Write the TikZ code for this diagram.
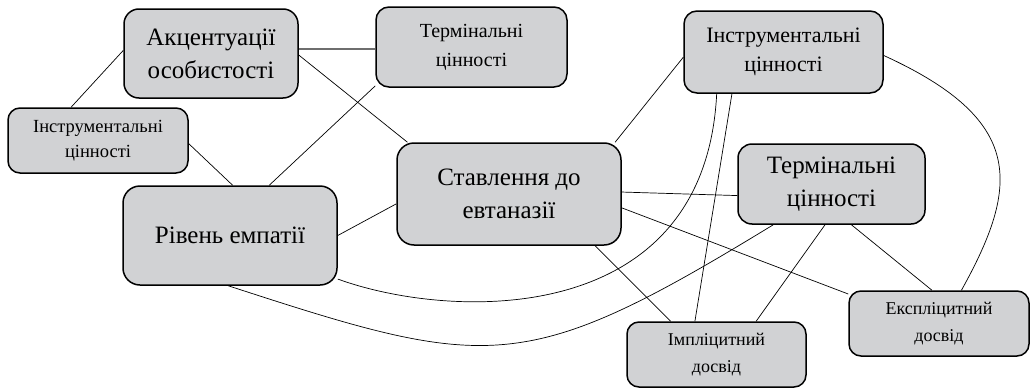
\documentclass[tikz,border=0pt]{standalone}
\usepackage{fontspec}
\setmainfont{Liberation Serif}
\definecolor{boxgray}{RGB}{209,210,212}
\definecolor{linegray}{RGB}{110,110,110}
\begin{document}
\begin{tikzpicture}[x=1pt,y=-1pt,
  box/.style={draw=black, line width=1.5pt, fill=boxgray, rounded corners=15pt, inner sep=0pt, align=center},
  bigtxt/.style={font=\fontsize{25}{33}\selectfont},
  smalltxt/.style={font=\fontsize{18.5}{25}\selectfont},
  conn/.style={draw=black, line width=0.7pt}]
\useasboundingbox (0,0) rectangle (1030,388);
\node[box, bigtxt, minimum width=174pt, minimum height=89pt] (A) at (211,53.5) {Акцентуації\\особистості};
\node[box, font=\fontsize{20}{29}\selectfont, minimum width=191pt, minimum height=80pt, rounded corners=13pt] (T1) at (471.5,47) {Термінальні\\цінності};
\node[box, smalltxt, minimum width=180pt, minimum height=65pt, rounded corners=12pt] (I1) at (98,140.5) {Інструментальні\\цінності};
\node[box, bigtxt, minimum width=224pt, minimum height=102pt, rounded corners=17pt] (S) at (509,194) {Ставлення до\\евтаназії};
\node[box, bigtxt, minimum width=214pt, minimum height=99pt, rounded corners=17pt] (R) at (230,235.5) {Рівень емпатії};
\node[box, font=\fontsize{22}{29}\selectfont, minimum width=199pt, minimum height=82pt, rounded corners=13pt] (I2) at (783.5,52) {Інструментальні\\цінності};
\node[box, bigtxt, minimum width=187pt, minimum height=80pt, rounded corners=14pt] (T2) at (831.5,184) {Термінальні\\цінності};
\node[box, font=\fontsize{18}{27}\selectfont, minimum width=179pt, minimum height=65pt, rounded corners=12pt] (Im) at (716.5,354.5) {Імпліцитний\\досвід};
\node[box, font=\fontsize{18}{27}\selectfont, minimum width=180pt, minimum height=65pt, rounded corners=12pt] (E) at (939,323.5) {Експліцитний\\досвід};

\draw[draw=linegray, line width=1.4pt] (A.east |- 0,49) -- (T1.west |- 0,49);
\draw[conn] (A.178) -- (I1.129);
\draw[conn] (A.-1) -- (S.153);
\draw[conn] (T1.202) -- (R.52);
\draw[conn] (I1.-2) -- (R.87);
\draw[conn] (R.east) -- (S.185);
\draw[conn] (R.-22) .. controls (450,320) and (705,330) .. (I2.212);
\draw[conn] (R.-92) .. controls (490,371) and (524,377) .. (T2.215);
\draw[conn] (S.26) -- (I2.183);
\draw[conn] (S.1) -- (T2.187);
\draw[conn] (S.-7) -- (E.162);
\draw[conn] (S.-31) -- (Im.144);
\draw[conn] (I2.219) -- (Im.123);
\draw[conn] (I2.-2) .. controls (1025,120) and (1020,185) .. (E.56);
\draw[conn] (T2.261) -- (Im.40);
\draw[conn] (T2.-64) -- (E.102);
\end{tikzpicture}
\end{document}
